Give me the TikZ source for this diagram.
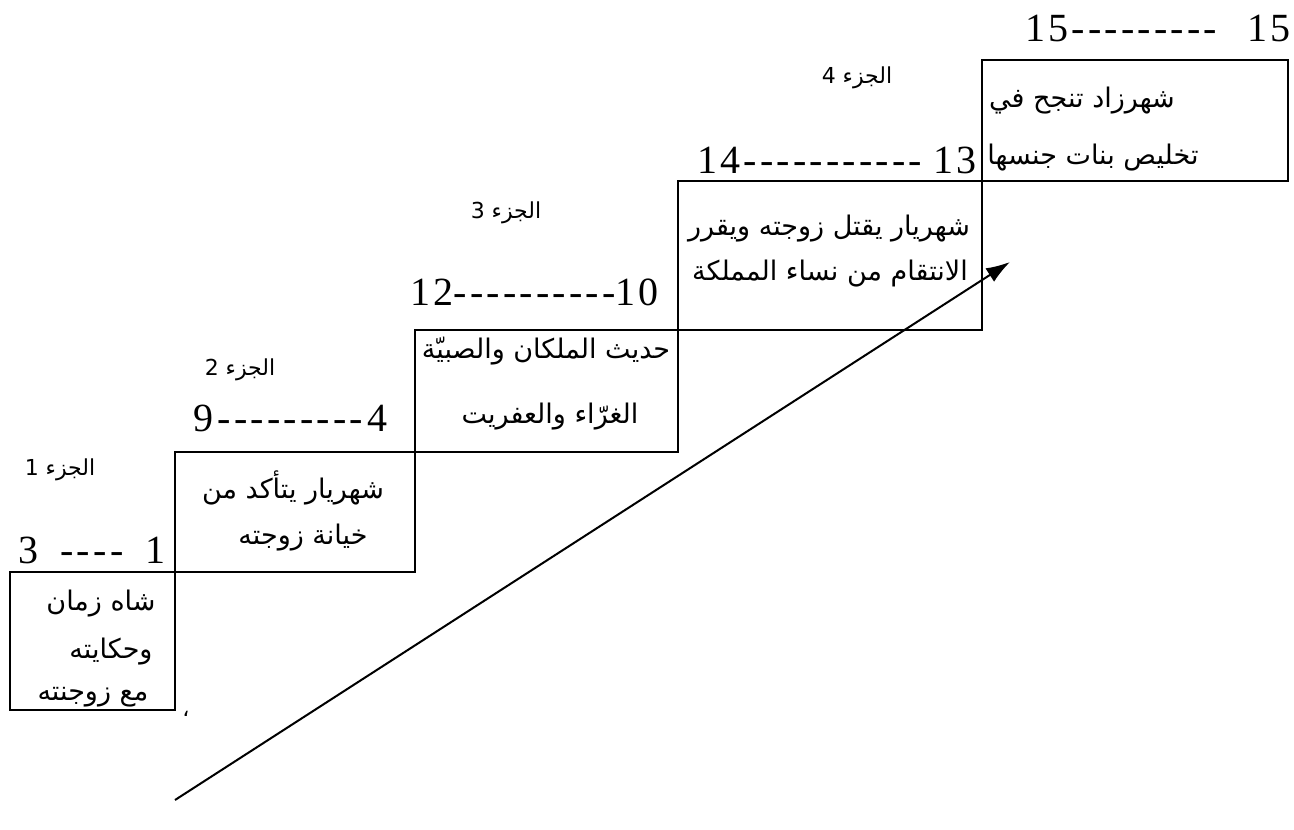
\documentclass[tikz,border=0pt]{standalone}
\usepackage{fontspec}
\setmainfont{Liberation Serif}
\newfontfamily\arabicfont[Script=Arabic]{DejaVu Sans}
\newfontfamily\numfont[Ligatures=TeXOff,LetterSpace=8]{Liberation Serif}
\usetikzlibrary{arrows.meta,fit}
\TeXXeTstate=1
\begin{document}
\begin{tikzpicture}[x=0.5pt,y=-0.5pt,
  box/.style={draw, line width=1pt, inner sep=0pt},
  ar/.style={font=\arabicfont\fontsize{13.5}{16}\selectfont, inner sep=0pt},
  part/.style={font=\arabicfont\fontsize{11}{13}\selectfont, inner sep=0pt},
  num/.style={font=\numfont\fontsize{20}{24}\selectfont, inner sep=0pt, anchor=west},
  flow/.style={line width=1pt, -{Latex[length=12pt,width=8pt]}}]
\useasboundingbox (0,0) rectangle (1294,829);
% boxes
\coordinate (b1a) at (10,572);  \coordinate (b1b) at (175,710);
\coordinate (b2a) at (175,452); \coordinate (b2b) at (415,572);
\coordinate (b3a) at (415,330); \coordinate (b3b) at (678,452);
\coordinate (b4a) at (678,181); \coordinate (b4b) at (982,330);
\coordinate (b5a) at (982,60);  \coordinate (b5b) at (1288,181);
\node[box, fit=(b1a)(b1b)] (b1) {};
\node[box, fit=(b2a)(b2b)] (b2) {};
\node[box, fit=(b3a)(b3b)] (b3) {};
\node[box, fit=(b4a)(b4b)] (b4) {};
\node[box, fit=(b5a)(b5b)] (b5) {};
% box texts
\node[ar] (t11) at (101,604) {\beginR شاه زمان\endR};
\node[ar] (t12) at (111,652) {\beginR وحكايته\endR};
\node[ar] (t13) at (93,697) {\beginR مع زوجنته\endR};
\node[ar] (t21) at (293,488) {\beginR شهريار يتأكد من\endR};
\node[ar] (t22) at (303,538) {\beginR خيانة زوجته\endR};
\node[ar] (t31) at (546,351) {\beginR حديث الملكان والصبيّة\endR};
\node[ar] (t32) at (550,417) {\beginR الغرّاء والعفريت\endR};
\node[ar] (t41) at (829,229) {\beginR شهريار يقتل زوجته ويقرر\endR};
\node[ar] (t42) at (830,274) {\beginR الانتقام من نساء المملكة\endR};
\node[ar] (t51) at (1082,101) {\beginR شهرزاد تنجح في\endR};
\node[ar] (t52) at (1093,158) {\beginR تخليص بنات جنسها\endR};
\node[part] (mk) at (186,714) {،};
% part labels
\node[part] (p1) at (60,470) {\beginR الجزء 1\endR};
\node[part] (p2) at (240,370) {\beginR الجزء 2\endR};
\node[part] (p3) at (506,213) {\beginR الجزء 3\endR};
\node[part] (p4) at (857,78) {\beginR الجزء 4\endR};
% page ranges
\node[num] (n1) at (18,550) {\hbox to 73.5pt{3\hfil----\hfil1}};
\node[num] (n2) at (193,418) {\hbox to 97pt{9\hfil---------\hfil4}};
\node[num] (n3) at (410,292) {\hbox to 122.5pt{12\hfil----------\hfil10}};
\node[num] (n4) at (697,160) {\hbox to 139.5pt{14-----------\hfil13}};
\node[num] (n5) at (1025,28) {\hbox to 132.5pt{15---------\hfil15}};
% arrow
\coordinate (as) at (175,800);
\coordinate (ae) at (1010,262);
\draw[flow] (as) -- (ae);
\end{tikzpicture}
\end{document}
